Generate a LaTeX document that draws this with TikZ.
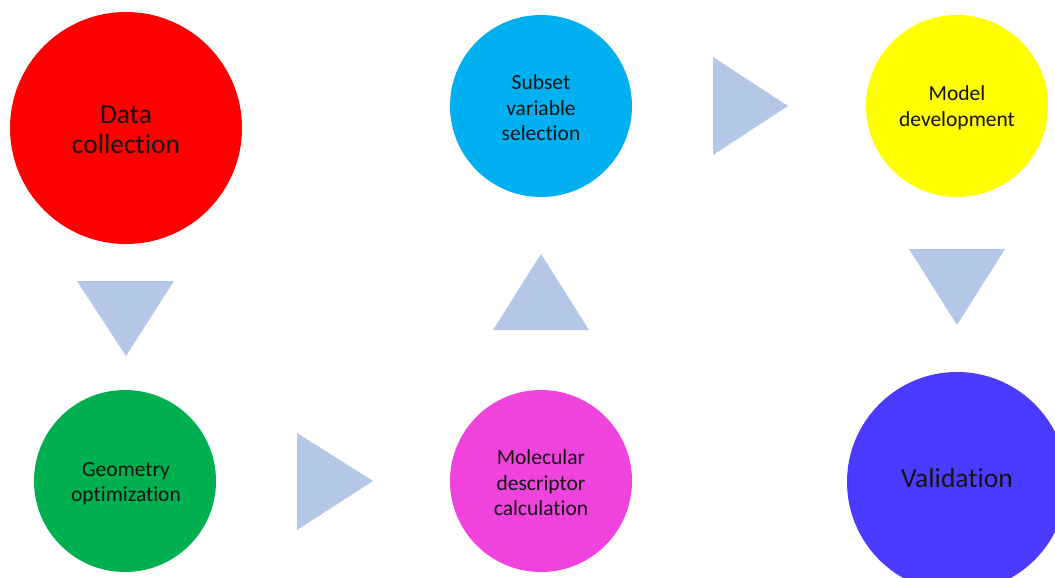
\documentclass[tikz,border=0pt]{standalone}
\usepackage{fontspec}
\setmainfont{Carlito}[Ligatures=NoCommon]
\definecolor{cred}{HTML}{FF0000}
\definecolor{cgreen}{HTML}{00B050}
\definecolor{cmag}{HTML}{F042DD}
\definecolor{ccyan}{HTML}{00B0F0}
\definecolor{cyel}{HTML}{FFFF00}
\definecolor{cviol}{HTML}{4B3AFF}
\definecolor{carrow}{HTML}{B4C7E7}
\definecolor{ctext}{HTML}{141414}
\tikzset{
  stage/.style={circle, inner sep=0pt, draw=none},
  smallstage/.style={stage, minimum size=182pt},
  smallfont/.style={font=\fontsize{21.5}{25.5}\selectfont, text=ctext, align=center, inner sep=0pt},
  bigfont/.style={font=\fontsize{27.5}{29.5}\selectfont, text=ctext, align=center, inner sep=0pt},
  flowarrow/.style={fill=carrow, draw=none}
}
\begin{document}
\begin{tikzpicture}[x=1pt,y=-1pt]
\useasboundingbox (0,0) rectangle (1055,578);
\clip (0,0) rectangle (1055,578);
\fill[white] (0,0) rectangle (1055,578);
% stages
\node[stage, fill=cred, minimum size=232pt] (data) at (126,128) {};
\node[bigfont] (datatext) at (126,130) {Data\\collection};
\node[smallstage, fill=cgreen] (geom) at (125,481) {};
\node[smallfont] (geomtext) at (126,484) {Geometry\\optimization};
\node[smallstage, fill=cmag] (desc) at (541,481) {};
\node[smallfont] (desctext) at (541,483) {Molecular\\descriptor\\calculation};
\node[smallstage, fill=ccyan] (subset) at (541,106) {};
\node[smallfont] (subsettext) at (541,108) {Subset\\variable\\selection};
\node[smallstage, fill=cyel] (model) at (957,106) {};
\node[smallfont] (modeltext) at (957,108) {Model\\development};
\node[stage, fill=cviol, minimum size=220pt] (valid) at (957,482) {};
\node[bigfont] (validtext) at (957,478) {Validation};
% flow triangles
\fill[flowarrow] (77,281) -- (174,281) -- (126,356) -- cycle;
\fill[flowarrow] (297,433) -- (373,481) -- (297,530) -- cycle;
\fill[flowarrow] (493,330) -- (541,254) -- (589,330) -- cycle;
\fill[flowarrow] (713,57) -- (788,106) -- (713,155) -- cycle;
\fill[flowarrow] (909,249) -- (1005,249) -- (957,325) -- cycle;
\end{tikzpicture}
\end{document}
